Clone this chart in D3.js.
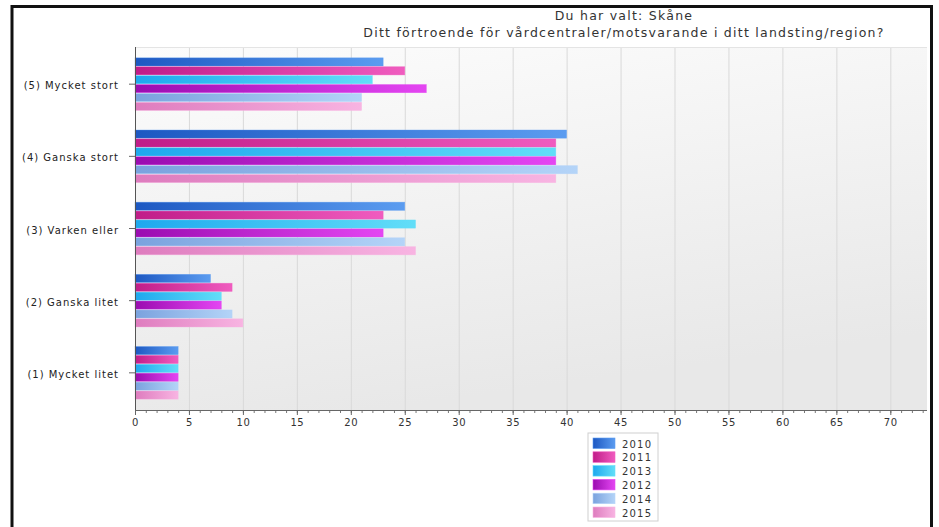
<!DOCTYPE html>
<html>
<head>
<meta charset="utf-8">
<script src="https://cdn.jsdelivr.net/npm/d3@7"></script>
<style>
  html, body { margin: 0; padding: 0; background: #fff; }
  svg { display: block; font-family: "DejaVu Sans", Verdana, sans-serif; }
</style>
</head>
<body>
<svg id="chart" width="939" height="527"></svg>
<script>
// Response categories, top to bottom
const categories = ["(5) Mycket stort", "(4) Ganska stort", "(3) Varken eller", "(2) Ganska litet", "(1) Mycket litet"];
// Survey years in legend order
const years = ["2010", "2011", "2013", "2012", "2014", "2015"];
// Share of answers (%) per category, one array per year
const v2010 = [23, 40, 25, 7, 4];
const v2011 = [25, 39, 23, 9, 4];
const v2013 = [22, 39, 26, 8, 4];
const v2012 = [27, 39, 23, 8, 4];
const v2014 = [21, 41, 25, 9, 4];
const v2015 = [21, 39, 26, 10, 4];
const xTicks = [0, 5, 10, 15, 20, 25, 30, 35, 40, 45, 50, 55, 60, 65, 70];
const titleLines = ["Du har valt: Skåne", "Ditt förtroende för vårdcentraler/motsvarande i ditt landsting/region?"];

// Gradient stops per year (dark left, light right)
const colors = {
  "2010": ["#1d58c2", "#5b9cf0"],
  "2011": ["#c01c88", "#f05cbf"],
  "2013": ["#1ea8ee", "#62def8"],
  "2012": ["#9a0cb0", "#e446f2"],
  "2014": ["#7aa2de", "#b4d4f8"],
  "2015": ["#de7cbe", "#f8b4e2"]
};

const seriesByYear = { "2010": v2010, "2011": v2011, "2013": v2013, "2012": v2012, "2014": v2014, "2015": v2015 };
const rows = categories.map((c, i) => ({ cat: c, vals: years.map(y => ({ year: y, v: seriesByYear[y][i] })) }));

const svg = d3.select("#chart");
const defs = svg.append("defs");

const plot = { left: 135, right: 927, top: 47, bottom: 410 };

const x = d3.scaleLinear().domain([0, 73.4]).range([plot.left, plot.right]);
const y0 = d3.scaleBand().domain(categories).range([plot.top, plot.bottom]).paddingInner(0.27).paddingOuter(0.15);
const y1 = d3.scaleBand().domain(years).range([0, y0.bandwidth()]).paddingInner(0.08);

// Gradients
const bg = defs.append("linearGradient").attr("id", "plotbg").attr("x1", 0).attr("y1", 0).attr("x2", 0.3).attr("y2", 1);
bg.append("stop").attr("offset", 0).attr("stop-color", "#fcfcfc");
bg.append("stop").attr("offset", 1).attr("stop-color", "#e8e8e8");
years.forEach(yr => {
  const g = defs.append("linearGradient").attr("id", "g" + yr).attr("x1", 0).attr("y1", 0).attr("x2", 1).attr("y2", 0);
  g.append("stop").attr("offset", 0).attr("stop-color", colors[yr][0]);
  g.append("stop").attr("offset", 1).attr("stop-color", colors[yr][1]);
});

// Plot background
svg.append("rect")
  .attr("x", plot.left).attr("y", plot.top)
  .attr("width", plot.right - plot.left).attr("height", plot.bottom - plot.top)
  .attr("fill", "url(#plotbg)");

// Vertical grid lines
svg.append("g").selectAll("line").data(xTicks.filter(d => d > 0)).join("line")
  .attr("x1", d => x(d) + 0.5).attr("x2", d => x(d) + 0.5)
  .attr("y1", plot.top).attr("y2", plot.bottom)
  .attr("stroke", "#d9d9d9").attr("stroke-width", 1);
svg.append("line")
  .attr("x1", plot.left).attr("x2", plot.right)
  .attr("y1", plot.top + 0.5).attr("y2", plot.top + 0.5)
  .attr("stroke", "#e4e4e4");

// Bars
const groups = svg.append("g").selectAll("g").data(rows).join("g")
  .attr("transform", d => `translate(0,${y0(d.cat)})`);
groups.selectAll("rect").data(d => d.vals).join("rect")
  .attr("x", x(0))
  .attr("y", d => y1(d.year))
  .attr("width", d => x(d.v) - x(0))
  .attr("height", y1.bandwidth())
  .attr("fill", d => `url(#g${d.year})`)
  .attr("stroke", d => colors[d.year][1])
  .attr("stroke-opacity", 0.6)
  .attr("stroke-width", 0.6);

// X axis with minor ticks
const xAxis = svg.append("g").attr("transform", `translate(0,${plot.bottom})`);
xAxis.call(d3.axisBottom(x).tickValues(d3.range(0, 74, 1)).tickSize(3).tickFormat(""))
  .call(g => g.select(".domain").remove())
  .call(g => g.selectAll("line").attr("stroke", "#777"));
const xMajor = svg.append("g").attr("transform", `translate(0,${plot.bottom})`);
xMajor.call(d3.axisBottom(x).tickValues(xTicks).tickSize(5).tickPadding(4))
  .call(g => g.select(".domain").remove())
  .call(g => g.selectAll("line").attr("stroke", "#666"))
  .call(g => g.selectAll("text").attr("fill", "#333").attr("font-size", 10)
    .attr("letter-spacing", 0.6).attr("font-family", "DejaVu Sans, Verdana, sans-serif"));
svg.append("line")
  .attr("x1", plot.left).attr("x2", plot.right)
  .attr("y1", plot.bottom + 0.5).attr("y2", plot.bottom + 0.5)
  .attr("stroke", "#666");

// Y axis
const yAxis = svg.append("g").attr("transform", `translate(${plot.left},0)`);
yAxis.call(d3.axisLeft(y0).tickSize(6).tickPadding(10))
  .call(g => g.select(".domain").remove())
  .call(g => g.selectAll("line").attr("stroke", "#666"))
  .call(g => g.selectAll("text").attr("fill", "#222").attr("font-size", 10)
    .attr("letter-spacing", 1).attr("dy", "0.5em").attr("font-family", "DejaVu Sans, Verdana, sans-serif"));
svg.append("line")
  .attr("x1", plot.left + 0.5).attr("x2", plot.left + 0.5)
  .attr("y1", plot.top).attr("y2", plot.bottom)
  .attr("stroke", "#555");

// Title
svg.append("g").selectAll("text").data(titleLines).join("text")
  .attr("x", 624).attr("y", (d, i) => 20 + i * 16.5)
  .attr("text-anchor", "middle")
  .attr("font-size", 12.5)
  .attr("letter-spacing", 1.25)
  .attr("fill", "#333")
  .text(d => d);

// Legend
const leg = svg.append("g").attr("transform", "translate(588,433)");
leg.append("rect").attr("width", 70).attr("height", 88)
  .attr("fill", "#fff").attr("stroke", "#d0d0d0");
const items = leg.selectAll("g").data(years).join("g")
  .attr("transform", (d, i) => `translate(5,${5 + i * 13.8})`);
items.append("rect").attr("width", 22).attr("height", 10.5)
  .attr("fill", d => `url(#g${d})`)
  .attr("stroke", d => colors[d][1]).attr("stroke-width", 0.6);
items.append("text").attr("x", 29).attr("y", 9.5)
  .attr("font-size", 10).attr("letter-spacing", 1.2).attr("fill", "#333")
  .text(d => d);

// Outer frame
svg.append("path")
  .attr("d", "M12,531 V6.5 H931.5 V531")
  .attr("fill", "none").attr("stroke", "#111").attr("stroke-width", 3);
</script>
</body>
</html>
